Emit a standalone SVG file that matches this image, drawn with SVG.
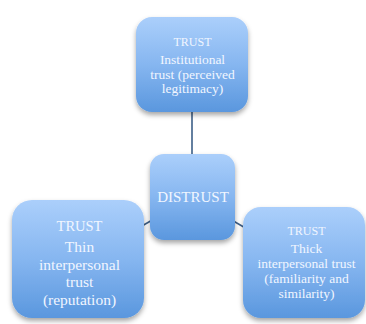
<svg xmlns="http://www.w3.org/2000/svg" width="366" height="324" viewBox="0 0 366 324">
  <defs>
    <linearGradient id="boxFill" x1="0" y1="0" x2="0" y2="1">
      <stop offset="0" stop-color="#abcffb"/>
      <stop offset="0.5" stop-color="#86b6f0"/>
      <stop offset="1" stop-color="#5a97de"/>
    </linearGradient>
    <filter id="shadow" x="-20%" y="-20%" width="140%" height="150%">
      <feDropShadow dx="0" dy="3" stdDeviation="2.5" flood-color="#000" flood-opacity="0.35"/>
    </filter>
  </defs>
  <style>
    .box { fill: url(#boxFill); filter: url(#shadow); }
    .link { stroke: #3d5f88; stroke-width: 1.6; fill: none; }
    text { font-family: "Liberation Serif", "Times New Roman", serif; fill: #f1f6ff; text-anchor: middle; }
  </style>
  <rect width="366" height="324" fill="#ffffff"/>

  <g id="connectors">
    <line class="link" x1="192" y1="112" x2="192" y2="155"/>
    <line class="link" x1="192" y1="197" x2="78" y2="263"/>
    <line class="link" x1="192" y1="197" x2="304" y2="262"/>
  </g>

  <g id="institutional">
    <rect class="box" x="136" y="17" width="112" height="95" rx="16"/>
    <text x="192.5" y="46" font-size="12">TRUST</text>
    <text x="192.5" y="64" font-size="13.5">Institutional</text>
    <text x="192.5" y="78.5" font-size="13.5">trust (perceived</text>
    <text x="192.5" y="93" font-size="13.5">legitimacy)</text>
  </g>

  <g id="distrust">
    <rect class="box" x="150" y="154" width="85" height="86" rx="14"/>
    <text x="193" y="202" font-size="15">DISTRUST</text>
  </g>

  <g id="thin">
    <rect class="box" x="12" y="200" width="132" height="118" rx="20"/>
    <text x="79.5" y="231" font-size="14.5">TRUST</text>
    <text x="79.5" y="252" font-size="15.5">Thin</text>
    <text x="79.5" y="269.5" font-size="15.5">interpersonal</text>
    <text x="79.5" y="287" font-size="15.5">trust</text>
    <text x="79.5" y="304.5" font-size="15.5">(reputation)</text>
  </g>

  <g id="thick">
    <rect class="box" x="243" y="207" width="122" height="111" rx="18"/>
    <text x="306.5" y="235" font-size="12">TRUST</text>
    <text x="306.5" y="253" font-size="13.5">Thick</text>
    <text x="306.5" y="268" font-size="13.5">interpersonal trust</text>
    <text x="306.5" y="283" font-size="13.5">(familiarity and</text>
    <text x="306.5" y="298" font-size="13.5">similarity)</text>
  </g>
</svg>
